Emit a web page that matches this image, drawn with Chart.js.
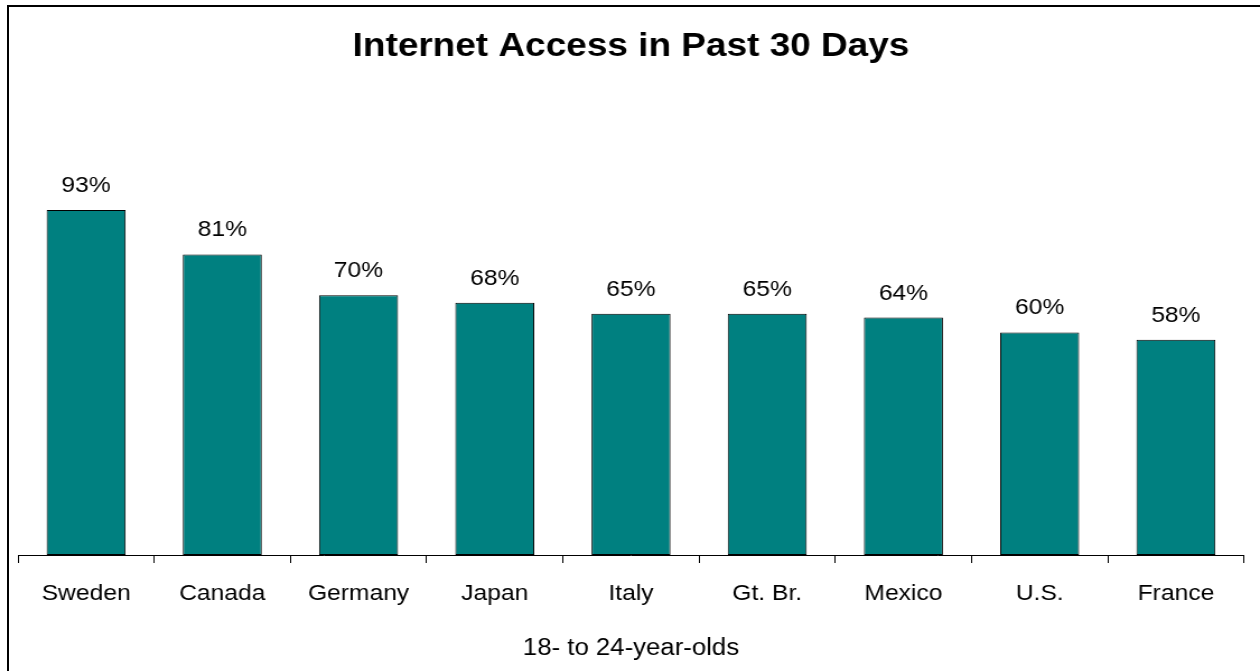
<!DOCTYPE html>
<html>
<head>
<meta charset="utf-8">
<script src="https://cdn.jsdelivr.net/npm/chart.js@4/dist/chart.umd.min.js"></script>
<style>
  html, body { margin: 0; padding: 0; background: #fff; overflow: hidden; }
  body { width: 1260px; height: 671px; position: relative; }
  #frame {
    position: absolute; left: 7px; top: 5px; width: 1300px; height: 700px;
    border-top: 2px solid #000; border-left: 2px solid #000; pointer-events: none;
  }
  #wrap {
    position: absolute; left: 0; top: 0; width: 1125px; height: 671px;
    transform: scale(1.12, 1); transform-origin: 0 0;
  }
  canvas { display: block; }
</style>
</head>
<body>
<div id="wrap"><canvas id="chart" width="1125" height="671"></canvas></div>
<div id="frame"></div>
<script>
const countries = ['Sweden', 'Canada', 'Germany', 'Japan', 'Italy', 'Gt. Br.', 'Mexico', 'U.S.', 'France'];
const accessShare = [93, 81, 70, 68, 65, 65, 64, 60, 58];
const chartTitle = 'Internet Access in Past 30 Days';
const axisTitle = '18- to 24-year-olds';

const FONT = "'Liberation Sans', Arial, Helvetica, sans-serif";

// Percent labels above each bar, taken from the bar's own value
const valueLabels = {
  id: 'valueLabels',
  afterDatasetsDraw(chart) {
    const { ctx } = chart;
    const meta = chart.getDatasetMeta(0);
    const values = chart.data.datasets[0].data;
    ctx.save();
    ctx.font = `22px ${FONT}`;
    ctx.fillStyle = '#000';
    ctx.textAlign = 'center';
    ctx.textBaseline = 'alphabetic';
    meta.data.forEach((bar, i) => {
      ctx.fillText(values[i] + '%', bar.x, bar.y - 18);
    });
    ctx.restore();
  }
};

new Chart(document.getElementById('chart'), {
  type: 'bar',
  data: {
    labels: countries,
    datasets: [{
      data: accessShare,
      backgroundColor: '#008080',
      borderColor: '#000',
      borderWidth: 1,
      borderSkipped: false,
      barPercentage: 0.58,
      categoryPercentage: 1.0
    }]
  },
  options: {
    responsive: false,
    animation: false,
    devicePixelRatio: 1,
    layout: { padding: { left: 16.07, right: 14.29, top: 0, bottom: 0 } },
    plugins: {
      legend: { display: false },
      tooltip: { enabled: false },
      title: {
        display: true,
        text: chartTitle,
        color: '#000',
        font: { family: FONT, size: 33, weight: 'bold', lineHeight: 1.2 },
        padding: { top: 26.7, bottom: 117.7 }
      }
    },
    scales: {
      x: {
        offset: true,
        border: { display: true, color: '#000', width: 1 },
        grid: {
          display: true, offset: true, drawOnChartArea: false, drawTicks: true,
          tickLength: 8, color: '#000', lineWidth: 1
        },
        ticks: {
          color: '#000', padding: 18, maxRotation: 0, autoSkip: false,
          font: { family: FONT, size: 22, lineHeight: 1.2 }
        },
        title: {
          display: true, text: axisTitle, color: '#000',
          font: { family: FONT, size: 23, lineHeight: 1.2 },
          padding: { top: 9.9, bottom: 8.1 }
        }
      },
      y: {
        display: false,
        min: 0,
        max: 100
      }
    }
  },
  plugins: [valueLabels]
});
</script>
</body>
</html>
